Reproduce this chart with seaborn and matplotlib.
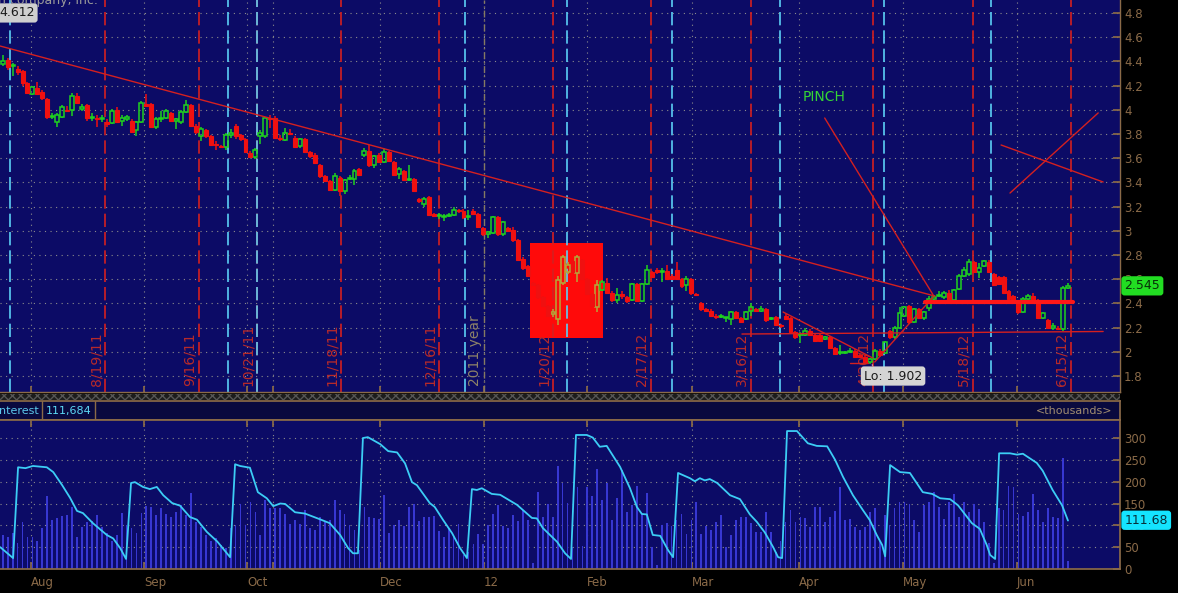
import matplotlib
matplotlib.use("Agg")
import matplotlib.pyplot as plt
import matplotlib.transforms as mtransforms
from matplotlib.patches import Rectangle
import numpy as np
import seaborn as sns

# daily candles, one per trading day
opens = [4.38, 4.41, 4.36, 4.34, 4.32, 4.22, 4.13, 4.18, 4.15, 4.09,
         3.94, 3.90, 3.94, 4.00, 4.00, 4.11, 4.01, 4.04, 3.93, 3.93,
         3.92, 3.90, 3.89, 4.00, 3.91, 3.92, 3.91, 3.83, 3.90, 4.05,
         4.05, 3.86, 3.92, 3.93, 3.97, 3.91, 3.90, 3.98, 4.04, 3.87,
         3.78, 3.83, 3.78, 3.72, 3.70, 3.69, 3.79, 3.87, 3.79, 3.76,
         3.64, 3.61, 3.78, 3.78, 3.93, 3.93, 3.77, 3.75, 3.81, 3.77,
         3.70, 3.76, 3.65, 3.63, 3.54, 3.45, 3.41, 3.34, 3.44, 3.33,
         3.43, 3.43, 3.51, 3.63, 3.66, 3.54, 3.63, 3.57, 3.65, 3.57,
         3.47, 3.49, 3.42, 3.43, 3.26, 3.22, 3.28, 3.14, 3.12, 3.11,
         3.12, 3.13, 3.17, 3.16, 3.11, 3.16, 3.14, 3.02, 2.97, 2.98,
         3.11, 2.97, 3.02, 3.01, 2.92, 2.77, 2.71, 2.57, 2.55, 2.45,
         2.38, 2.31, 2.27, 2.57, 2.66, 2.75, 2.65, 2.76, 2.60, 2.48,
         2.37, 2.51, 2.57, 2.49, 2.43, 2.48, 2.45, 2.43, 2.56, 2.42,
         2.56, 2.66, 2.68, 2.66, 2.67, 2.63, 2.68, 2.60, 2.55, 2.60,
         2.48, 2.40, 2.35, 2.34, 2.30, 2.29, 2.28, 2.27, 2.33, 2.28,
         2.27, 2.34, 2.35, 2.34, 2.35, 2.27, 2.29, 2.22, 2.30, 2.28,
         2.16, 2.14, 2.14, 2.17, 2.14, 2.14, 2.11, 2.12, 2.03, 1.99,
         1.99, 2.00, 2.01, 1.97, 1.96, 1.92, 1.94, 2.01, 1.99, 2.17,
         2.12, 2.20, 2.30, 2.38, 2.25, 2.35, 2.28, 2.36, 2.44, 2.46,
         2.45, 2.49, 2.43, 2.52, 2.63, 2.64, 2.74, 2.66, 2.71, 2.74,
         2.64, 2.62, 2.62, 2.50, 2.46, 2.41, 2.33, 2.44, 2.46, 2.43,
         2.28, 2.26, 2.20, 2.20, 2.19, 2.53]
closes = [4.40, 4.35, 4.37, 4.31, 4.22, 4.14, 4.19, 4.13, 4.10, 3.94,
          3.95, 3.96, 4.02, 3.99, 4.11, 4.06, 4.02, 3.93, 3.94, 3.92,
          3.93, 3.88, 3.99, 3.90, 3.93, 3.94, 3.82, 3.90, 4.06, 4.03,
          3.86, 3.92, 3.93, 3.99, 3.91, 3.92, 3.98, 4.04, 3.87, 3.82,
          3.84, 3.78, 3.71, 3.71, 3.69, 3.79, 3.81, 3.78, 3.76, 3.65,
          3.61, 3.67, 3.81, 3.93, 3.92, 3.77, 3.76, 3.81, 3.80, 3.69,
          3.76, 3.65, 3.62, 3.56, 3.45, 3.41, 3.34, 3.45, 3.33, 3.42,
          3.44, 3.49, 3.46, 3.66, 3.54, 3.62, 3.57, 3.65, 3.58, 3.46,
          3.51, 3.42, 3.43, 3.33, 3.25, 3.26, 3.13, 3.12, 3.13, 3.12,
          3.13, 3.17, 3.16, 3.11, 3.12, 3.14, 3.03, 2.97, 2.99, 3.11,
          2.97, 3.07, 3.00, 2.92, 2.76, 2.69, 2.63, 2.55, 2.45, 2.38,
          2.30, 2.33, 2.59, 2.78, 2.72, 2.66, 2.78, 2.60, 2.48, 2.38,
          2.55, 2.58, 2.49, 2.43, 2.47, 2.46, 2.42, 2.56, 2.42, 2.56,
          2.68, 2.62, 2.66, 2.67, 2.60, 2.60, 2.60, 2.54, 2.60, 2.49,
          2.47, 2.35, 2.34, 2.30, 2.29, 2.30, 2.28, 2.33, 2.28, 2.25,
          2.33, 2.37, 2.34, 2.35, 2.26, 2.28, 2.22, 2.21, 2.27, 2.16,
          2.12, 2.15, 2.17, 2.14, 2.09, 2.09, 2.12, 2.03, 1.98, 2.00,
          2.00, 2.01, 1.96, 1.96, 1.91, 1.94, 2.01, 1.97, 2.08, 2.12,
          2.20, 2.32, 2.37, 2.25, 2.35, 2.28, 2.33, 2.44, 2.45, 2.47,
          2.49, 2.42, 2.51, 2.63, 2.68, 2.74, 2.66, 2.69, 2.75, 2.66,
          2.55, 2.56, 2.49, 2.44, 2.42, 2.33, 2.44, 2.46, 2.42, 2.28,
          2.32, 2.20, 2.21, 2.19, 2.53, 2.545]
highs = [4.45, 4.43, 4.39, 4.36, 4.33, 4.23, 4.20, 4.23, 4.16, 4.10,
         3.97, 3.97, 4.04, 4.03, 4.14, 4.14, 4.05, 4.05, 3.97, 3.96,
         3.96, 3.92, 4.01, 4.02, 3.96, 3.96, 3.92, 3.91, 4.07, 4.13,
         4.06, 3.94, 3.99, 4.01, 3.98, 3.93, 4.00, 4.08, 4.05, 3.88,
         3.86, 3.84, 3.79, 3.74, 3.71, 3.81, 3.84, 3.88, 3.80, 3.77,
         3.66, 3.68, 3.83, 3.94, 3.96, 3.95, 3.79, 3.85, 3.84, 3.78,
         3.77, 3.77, 3.66, 3.64, 3.55, 3.46, 3.42, 3.48, 3.45, 3.43,
         3.46, 3.51, 3.52, 3.68, 3.71, 3.63, 3.64, 3.68, 3.66, 3.58,
         3.53, 3.50, 3.54, 3.44, 3.27, 3.28, 3.29, 3.15, 3.15, 3.14,
         3.15, 3.20, 3.18, 3.18, 3.17, 3.18, 3.15, 3.03, 3.00, 3.12,
         3.12, 3.08, 3.03, 3.03, 2.93, 2.78, 2.72, 2.58, 2.56, 2.46,
         2.39, 2.35, 2.63, 2.80, 2.74, 2.76, 2.80, 2.77, 2.61, 2.49,
         2.59, 2.59, 2.61, 2.50, 2.53, 2.50, 2.46, 2.57, 2.57, 2.57,
         2.72, 2.67, 2.69, 2.69, 2.72, 2.64, 2.74, 2.61, 2.63, 2.61,
         2.49, 2.41, 2.36, 2.35, 2.31, 2.31, 2.29, 2.34, 2.34, 2.29,
         2.34, 2.40, 2.36, 2.38, 2.36, 2.29, 2.30, 2.23, 2.31, 2.29,
         2.17, 2.16, 2.20, 2.19, 2.15, 2.15, 2.13, 2.13, 2.04, 2.06,
         2.01, 2.03, 2.02, 1.98, 1.97, 1.95, 2.02, 2.02, 2.09, 2.18,
         2.21, 2.37, 2.38, 2.39, 2.36, 2.36, 2.34, 2.46, 2.47, 2.50,
         2.50, 2.51, 2.52, 2.64, 2.70, 2.77, 2.75, 2.73, 2.76, 2.76,
         2.65, 2.63, 2.63, 2.51, 2.47, 2.42, 2.45, 2.48, 2.49, 2.44,
         2.33, 2.27, 2.24, 2.21, 2.54, 2.57]
lows = [4.36, 4.33, 4.28, 4.29, 4.20, 4.13, 4.12, 4.12, 4.08, 3.92,
        3.92, 3.86, 3.93, 3.98, 3.95, 4.05, 3.99, 3.91, 3.91, 3.86,
        3.90, 3.86, 3.88, 3.89, 3.87, 3.91, 3.81, 3.78, 3.89, 4.02,
        3.85, 3.84, 3.90, 3.92, 3.90, 3.84, 3.88, 3.97, 3.86, 3.80,
        3.74, 3.77, 3.70, 3.67, 3.68, 3.67, 3.77, 3.76, 3.74, 3.64,
        3.60, 3.59, 3.72, 3.77, 3.85, 3.76, 3.74, 3.74, 3.79, 3.68,
        3.68, 3.64, 3.60, 3.55, 3.44, 3.40, 3.33, 3.33, 3.29, 3.30,
        3.42, 3.38, 3.45, 3.61, 3.53, 3.52, 3.56, 3.56, 3.57, 3.45,
        3.43, 3.41, 3.41, 3.32, 3.23, 3.20, 3.12, 3.11, 3.10, 3.08,
        3.11, 3.12, 3.15, 3.10, 3.09, 3.13, 3.02, 2.96, 2.94, 2.97,
        2.96, 2.96, 2.99, 2.91, 2.75, 2.68, 2.62, 2.54, 2.44, 2.37,
        2.29, 2.29, 2.22, 2.55, 2.64, 2.65, 2.58, 2.59, 2.47, 2.37,
        2.33, 2.50, 2.48, 2.41, 2.40, 2.44, 2.40, 2.42, 2.41, 2.41,
        2.55, 2.61, 2.64, 2.58, 2.59, 2.59, 2.59, 2.53, 2.50, 2.47,
        2.46, 2.34, 2.33, 2.29, 2.27, 2.28, 2.25, 2.22, 2.27, 2.24,
        2.26, 2.30, 2.33, 2.33, 2.25, 2.26, 2.21, 2.20, 2.26, 2.15,
        2.11, 2.07, 2.13, 2.13, 2.08, 2.08, 2.10, 2.02, 1.97, 1.97,
        1.98, 1.99, 1.95, 1.95, 1.91, 1.902, 1.93, 1.96, 1.98, 2.11,
        2.11, 2.19, 2.29, 2.23, 2.24, 2.27, 2.26, 2.34, 2.43, 2.45,
        2.44, 2.41, 2.42, 2.51, 2.62, 2.63, 2.65, 2.61, 2.70, 2.65,
        2.54, 2.55, 2.48, 2.43, 2.41, 2.31, 2.32, 2.43, 2.41, 2.27,
        2.27, 2.19, 2.18, 2.18, 2.17, 2.52]

volume = [78, 74, 82, 59, 108, 74, 74, 64, 93, 167,
          112, 117, 122, 124, 143, 74, 97, 108, 110, 124,
          97, 82, 63, 78, 128, 101, 93, 82, 129, 145,
          142, 124, 139, 125, 119, 131, 146, 124, 173, 108,
          97, 78, 63, 70, 55, 47, 93, 101, 150, 101,
          153, 131, 78, 158, 140, 139, 140, 127, 104, 112,
          104, 135, 93, 89, 120, 108, 112, 158, 135, 127,
          101, 89, 43, 143, 118, 116, 114, 169, 83, 100,
          112, 98, 141, 149, 111, 120, 120, 121, 88, 74,
          95, 74, 103, 32, 40, 57, 80, 57, 100, 126,
          146, 98, 95, 124, 111, 136, 113, 13, 177, 120,
          149, 120, 236, 198, 152, 51, 188, 52, 188, 167,
          230, 159, 198, 113, 162, 227, 131, 146, 190, 126,
          175, 50, 9, 100, 105, 98, 112, 127, 81, 112,
          154, 81, 98, 89, 108, 124, 51, 78, 113, 118,
          118, 105, 85, 84, 130, 85, 40, 63, 108, 135,
          108, 120, 116, 97, 143, 141, 108, 120, 133, 188,
          112, 114, 97, 89, 97, 130, 139, 63, 124, 101,
          139, 154, 153, 150, 112, 85, 147, 154, 177, 143,
          114, 154, 171, 120, 154, 130, 150, 137, 108, 59,
          13, 139, 135, 191, 188, 126, 122, 131, 171, 135,
          108, 139, 120, 116, 255, 18]

# open interest line, vertices
oi_x = [-0.5, 2.1, 3.1, 4.6, 6.1, 8.9, 10.2, 12.0, 13.6, 15.0, 16.2, 18.2, 21.0, 22.3,
        23.7, 24.9, 25.9, 26.7, 28.3, 29.7, 31.1, 32.4, 34.2, 35.8, 37.8, 39.2, 41.2,
        43.3, 45.9, 46.9, 47.9, 49.9, 51.5, 53.3, 54.6, 56.0, 57.0, 59.0, 61.0, 64.0,
        66.0, 68.1, 69.7, 70.7, 71.7, 72.7, 73.7, 76.2, 77.8, 79.6, 81.2, 82.6, 83.6,
        86.2, 87.2, 88.9, 90.7, 92.3, 93.7, 94.7, 95.7, 96.7, 98.7, 100.4, 103.8,
        106.8, 107.8, 109.0, 111.9, 113.5, 114.7, 115.7, 117.9, 119.1, 120.5, 121.9,
        124.6, 126.6, 128.0, 129.0, 130.0, 131.2, 132.7, 134.3, 135.3, 136.3, 138.7,
        139.7, 140.7, 141.7, 142.7, 144.2, 146.8, 148.8, 150.8, 152.2, 153.8, 155.5,
        156.5, 157.3, 158.3, 160.3, 162.5, 164.3, 166.4, 168.0, 169.6, 171.6, 173.6,
        175.0, 176.4, 177.5, 178.1, 179.1, 181.1, 183.1, 185.7, 187.6, 189.2, 191.2,
        192.8, 195.6, 197.2, 198.6, 199.3, 200.3, 201.1, 203.3, 204.7, 205.9, 208.7,
        209.9, 211.9, 213.8, 215.0]
oi_val = [50, 25, 233, 231, 236, 233, 222, 192, 163, 133, 128, 105, 78, 70,
          48, 23, 197, 199, 188, 183, 188, 169, 151, 145, 119, 113, 85,
          63, 27, 240, 236, 232, 176, 162, 144, 150, 149, 130, 127, 114,
          105, 78, 48, 36, 36, 300, 302, 286, 270, 267, 242, 199, 192,
          151, 142, 112, 82, 48, 25, 183, 181, 185, 172, 170, 147,
          117, 116, 94, 62, 36, 23, 307, 307, 301, 280, 282,
          234, 185, 142, 126, 125, 78, 76, 43, 27, 220, 208,
          201, 208, 203, 206, 197, 169, 160, 125, 108, 84, 50,
          27, 25, 316, 316, 288, 282, 281, 250, 211, 169, 135,
          112, 78, 55, 29, 238, 222, 220, 176, 172, 162, 160,
          146, 105, 92, 55, 32, 23, 265, 265, 262, 264, 243,
          225, 181, 146, 111]

month_pos = [5.7, 28.5, 49.3, 54.6, 76.2, 97.1, 117.9, 139.1, 160.7, 181.7, 204.7]
month_labels = ["Aug", "Sep", "Oct", "", "Dec", "12", "Feb", "Mar", "Apr", "May", "Jun"]

expiry_pos = [20.7, 39.6, 51.3, 68.3, 88.1, 111.1, 130.8, 151.0, 175.6, 195.8, 215.6]
expiry_labels = ["8/19/11", "9/16/11", "10/21/11", "11/18/11", "12/16/11", "1/20/12",
                 "2/17/12", "3/16/12", "4/20/12", "5/18/12", "6/15/12"]
notice_pos = [1.5, 45.5, 51.3, 93.3, 113.9, 135.1, 156.9, 177.9, 199.5]
year_pos = 97.1

# drawn annotations (x in bar index, y in price)
trend_x, trend_y = [-0.545, 188.2], [4.527, 2.46]
pinch_x, pinch_y = [165.9, 187.8], [3.932, 2.469]
down_x, down_y = [157.5, 175.6], [2.329, 1.949]
base_x, base_y = [171.0, 174.6], [1.907, 1.907]
up_x, up_y = [176.0, 187.8], [1.916, 2.453]
support_x, support_y = [149.2, 222.1], [2.147, 2.168]
neck_x, neck_y = [186.1, 216.0], [2.41, 2.41]
cross1_x, cross1_y = [201.5, 222.1], [3.709, 3.403]
cross2_x, cross2_y = [203.3, 221.1], [3.312, 3.974]
box_x, box_y = [106.4, 121.1], [2.114, 2.899]

BG = "#0c0b66"
GREEN = "#1fd21f"
RED = "#f01010"
OLIVE = "#b4a83a"
BROWN = "#8a6a48"
LINE_RED = "#d42020"
CYAN = "#5ccff5"

sns.set_theme(style="dark")
plt.rcParams["font.family"] = ["DejaVu Sans"]

fig = plt.figure(figsize=(11.78, 5.93), dpi=100, facecolor="black")
W = 1120 / 1178
ax1 = fig.add_axes([0, 1 - 392 / 593, W, 392 / 593])
axh = fig.add_axes([0, 1 - 420 / 593, W, 19 / 593])
ax2 = fig.add_axes([0, 1 - 569 / 593, W, 149 / 593])

xlim = (-0.545, 225.5)
grid_kw = dict(color="#8c8c8c", linestyle=(0, (1, 4)), linewidth=0.8)

# ---------- price panel ----------
ax1.set_facecolor(BG)
ax1.set_xlim(*xlim)
ax1.set_ylim(1.668, 4.907)
ax1.yaxis.tick_right()
yt = np.round(np.arange(1.8, 4.81, 0.2), 1)
ax1.set_yticks(yt)
ax1.set_yticklabels(["%g" % v for v in yt])
ax1.set_xticks(month_pos)
ax1.set_xticklabels([])
ax1.tick_params(axis="y", direction="in", length=5, color=BROWN, labelcolor=BROWN,
                labelsize=8.5, pad=3, right=True, left=False)
ax1.tick_params(axis="x", direction="in", length=4, color=BROWN, bottom=True)
ax1.grid(True, **grid_kw)
for s in ["top", "left"]:
    ax1.spines[s].set_visible(False)
for s in ["right", "bottom"]:
    ax1.spines[s].set_color(BROWN)
    ax1.spines[s].set_linewidth(1)

ax1.add_patch(Rectangle((box_x[0], box_y[0]), box_x[1] - box_x[0], box_y[1] - box_y[0],
                        facecolor="#ff0a0a", edgecolor="none", zorder=0.9))

for p in expiry_pos:
    ax1.axvline(p, color=LINE_RED, linestyle=(0, (8, 3)), linewidth=1.2, zorder=1)
for p in notice_pos:
    ax1.axvline(p, color=CYAN, linestyle=(0, (8, 3)), linewidth=1.2, zorder=1)
ax1.axvline(year_pos, color="#857a62", linestyle=(0, (5, 2, 1, 2)), linewidth=1, zorder=1)

for p, lab in zip(expiry_pos, expiry_labels):
    ax1.text(p - 0.4, 1.715, lab, rotation=90, ha="right", va="bottom",
             fontsize=10, color="#b82a2a", zorder=0.95)
ax1.text(year_pos - 0.4, 1.715, "2011 year", rotation=90, ha="right", va="bottom",
         fontsize=10, color="#8d8268", zorder=0.95)

x = np.arange(len(closes))
o, c = np.array(opens), np.array(closes)
h, l = np.array(highs), np.array(lows)
up = c >= o
in_box = (x - 0.4 >= box_x[0]) & (x + 0.4 <= box_x[1])
col = np.where(up, np.where(in_box, OLIVE, GREEN), RED)
top, bot = np.maximum(o, c), np.minimum(o, c)
ax1.vlines(x, top, h, colors=col, linewidth=1.1, zorder=3)
ax1.vlines(x, l, bot, colors=col, linewidth=1.1, zorder=3)
hgt = np.maximum(top - bot, 0.005)
ax1.bar(x[up], hgt[up], bottom=bot[up], width=0.8, facecolor="none",
        edgecolor=col[up], linewidth=1.1, zorder=3)
ax1.bar(x[~up], hgt[~up], bottom=bot[~up], width=0.8, color=RED,
        edgecolor=RED, linewidth=0.8, zorder=3)

for lx, ly in [(trend_x, trend_y), (pinch_x, pinch_y), (down_x, down_y), (base_x, base_y),
               (up_x, up_y), (support_x, support_y), (cross1_x, cross1_y), (cross2_x, cross2_y)]:
    sns.lineplot(x=lx, y=ly, ax=ax1, color=LINE_RED, linewidth=1.0, zorder=4,
                 estimator=None, sort=False)
sns.lineplot(x=neck_x, y=neck_y, ax=ax1, color="#ff1818", linewidth=3, zorder=4,
             estimator=None, sort=False)
ax1.set_xlabel("")
ax1.set_ylabel("")

ax1.text(165.8, 4.106, "PINCH", color="#35d435", fontsize=10, ha="center", va="center")

lo_i = int(np.argmin(l))
ax1.annotate("Lo: %.3f" % l[lo_i], xy=(lo_i, l[lo_i]), xytext=(179.7, 1.80),
             ha="center", va="center", fontsize=9, color="#1a1a1a", zorder=6,
             bbox=dict(boxstyle="round,pad=0.25", fc="#d4d4d4", ec="none"),
             arrowprops=dict(arrowstyle="-", color="#d4d4d4", lw=1))
ax1.text(-0.75, 4.80, "4.612", ha="left", va="center", fontsize=9, color="#1a1a1a",
         zorder=6, bbox=dict(boxstyle="round,pad=0.25", fc="#cfcfcf", ec="none"))

tr1 = mtransforms.blended_transform_factory(ax1.transAxes, ax1.transData)
ax1.text(1.004, closes[-1], "%.3f" % closes[-1], transform=tr1, ha="left", va="center",
         fontsize=9, color="#083008", zorder=6,
         bbox=dict(boxstyle="round,pad=0.25", fc="#22dd22", ec="none"))

fig.text(-0.002, 0.999, "n company, inc.", ha="left", va="center", fontsize=9,
         color="#9a9a9a")

# separator strip
fig.patches.append(Rectangle((0, 1 - 400 / 593), W, 6 / 593, transform=fig.transFigure,
                             facecolor="#1c1c1c", edgecolor="#555555", hatch="xxxx",
                             linewidth=0))

# ---------- header band ----------
axh.set_facecolor("#09093e")
axh.set_xlim(0, 1120)
axh.set_ylim(0, 1)
axh.set_xticks([])
axh.set_yticks([])
axh.spines["left"].set_visible(False)
for s in ["top", "bottom", "right"]:
    axh.spines[s].set_color(BROWN)
axh.axvline(42, color=BROWN, linewidth=1)
axh.axvline(95, color=BROWN, linewidth=1)
axh.text(-1, 0.45, "nterest", ha="left", va="center", fontsize=8, color="#5cc8ec")
axh.text(46, 0.45, "111,684", ha="left", va="center", fontsize=8, color="#5cd8f5")
axh.text(1112, 0.45, "<thousands>", ha="right", va="center", fontsize=8, color="#a08c70")

# ---------- open interest / volume panel ----------
ax2.set_facecolor(BG)
ax2.set_xlim(*xlim)
ax2.set_ylim(0, 341.3)
ax2.bar(x, volume, width=0.36, color="#3737d2", linewidth=0, zorder=2)
sns.lineplot(x=oi_x, y=oi_val, ax=ax2, color="#3ccdf5", linewidth=1.3, zorder=3,
             estimator=None, sort=False)
ax2.set_xlabel("")
ax2.set_ylabel("")
ax2.yaxis.tick_right()
ax2.set_yticks(np.arange(0, 301, 50))
ax2.set_xticks(month_pos)
ax2.set_xticklabels(month_labels, ha="left")
ax2.tick_params(axis="y", direction="in", length=5, color=BROWN, labelcolor=BROWN,
                labelsize=8.5, pad=3, right=True, left=False)
ax2.tick_params(axis="x", direction="in", length=5, color=BROWN, labelcolor=BROWN,
                labelsize=8.5, pad=5, top=True, bottom=True)
ax2.grid(True, **grid_kw)
ax2.spines["left"].set_visible(False)
for s in ["right", "bottom", "top"]:
    ax2.spines[s].set_color(BROWN)

tr2 = mtransforms.blended_transform_factory(ax2.transAxes, ax2.transData)
ax2.text(1.004, oi_val[-1] + 0.68, "111.68", transform=tr2, ha="left", va="center",
         fontsize=9, color="#06303a", zorder=6,
         bbox=dict(boxstyle="round,pad=0.25", fc="#14e4ff", ec="none"))

fig.savefig("out.png", dpi=100, facecolor="black")
